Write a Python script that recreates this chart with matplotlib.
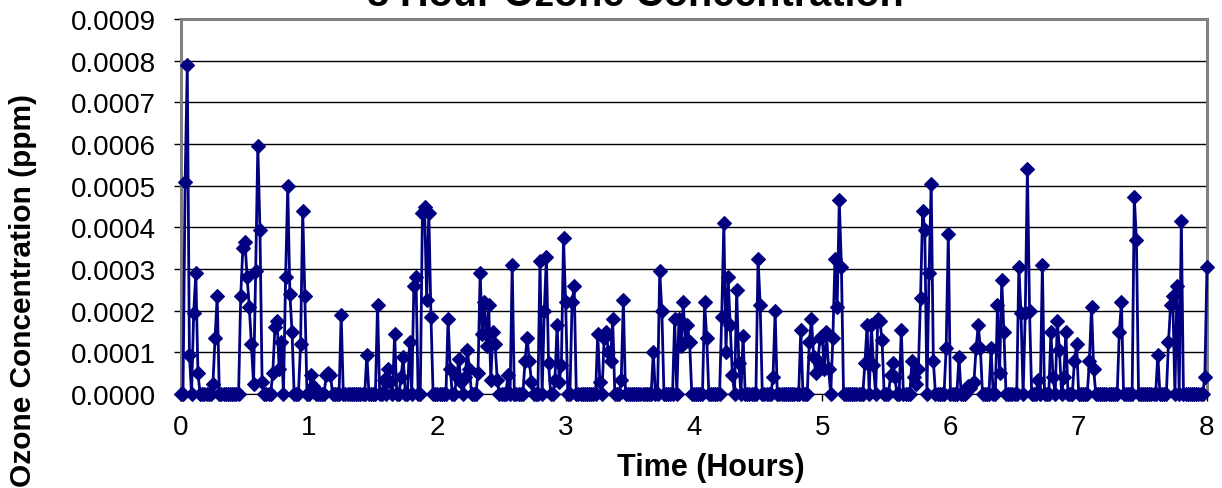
import numpy as np
import matplotlib
matplotlib.use("Agg")
import matplotlib.pyplot as plt
from matplotlib.ticker import FormatStrFormatter

plt.rcParams['font.family'] = ['Liberation Sans', 'DejaVu Sans']

# minute of the run (0..480) where ozone was above zero, and the reading there
# readings are in units of 1e-4 ppm; every other minute reads 0
event_minutes = [
    2, 3, 4, 6, 7, 8,
    15, 16, 17,
    28, 29, 30, 31, 32, 33, 34, 35, 36, 37, 38,
    43, 44, 45, 46, 47, 49, 50, 51, 52,
    56, 57, 58, 61, 62, 68, 69, 70, 75, 87, 92,
    95, 97, 98, 100, 103, 104, 107, 109, 110,
    113, 114, 115, 116, 117, 125, 126,
    129, 130, 131, 133, 134, 135,
    139, 140, 141, 142, 143, 144, 145, 146, 147, 148,
    153, 155, 161, 162, 163, 164,
    168, 170, 171, 172, 175, 176, 177, 178, 179, 180, 183, 184,
    195, 196, 198, 199, 200, 201, 202, 206, 207,
    221, 224, 225,
    231, 233, 234, 235, 236, 237, 238, 245, 246,
    253, 254, 255, 256, 257, 258, 260, 261, 263,
    270, 271, 277, 278, 290,
    294, 295, 296, 297, 298, 299, 300, 301, 302, 303,
    305, 306, 307, 308, 309,
    320, 321, 323, 324, 326, 327, 328,
    332, 333, 334, 337,
    342, 343, 344, 345, 346, 347, 348, 350, 351, 352,
    358, 359, 364,
    368, 369, 370, 371, 372, 373, 374, 379,
    382, 383, 384, 385,
    392, 393, 395, 396, 397, 401, 403,
    407, 408, 410, 411, 413, 414, 418, 419,
    425, 426, 427, 439, 440, 446, 447, 457,
    462, 463, 464, 466, 468, 479, 480,
]
event_values = [
    5.1, 7.9, 0.95, 1.95, 2.9, 0.5,
    0.25, 1.35, 2.35,
    2.35, 3.5, 3.65, 2.8, 2.1, 1.2, 0.25, 2.95, 5.95, 3.95, 0.3,
    0.5, 1.6, 1.75, 0.6, 1.25, 2.8, 5.0, 2.4, 1.5,
    1.2, 4.4, 2.35, 0.45, 0.2, 0.45, 0.5, 0.45, 1.9, 0.95, 2.15,
    0.35, 0.6, 0.3, 1.45, 0.4, 0.9, 1.25, 2.6, 2.8,
    4.35, 4.5, 2.25, 4.35, 1.85, 1.8, 0.6,
    0.4, 0.85, 0.3, 0.4, 1.05, 0.6,
    0.5, 2.9, 1.45, 2.2, 1.15, 2.15, 0.35, 1.5, 1.2, 0.35,
    0.45, 3.1, 0.8, 1.35, 0.8, 0.3,
    3.2, 2.0, 3.3, 0.75, 0.35, 1.65, 0.3, 0.7, 3.75, 2.2, 2.2, 2.6,
    1.45, 0.3, 1.35, 1.5, 1.0, 0.8, 1.8, 0.35, 2.25,
    1.0, 2.95, 2.0,
    1.8, 1.8, 1.15, 2.2, 1.25, 1.65, 1.25, 2.2, 1.35,
    1.85, 4.1, 1.0, 2.8, 1.65, 0.45, 2.5, 0.75, 1.4,
    3.25, 2.15, 0.4, 2.0, 1.55,
    1.25, 1.8, 0.9, 0.5, 0.8, 1.35, 1.4, 0.6, 1.5, 0.6,
    1.35, 3.25, 2.1, 4.65, 3.05,
    0.75, 1.65, 1.65, 0.7, 1.8, 1.75, 1.3,
    0.45, 0.75, 0.4, 1.55,
    0.8, 0.4, 0.25, 0.6, 2.3, 4.4, 3.95, 2.9, 5.05, 0.8,
    1.1, 3.85, 0.9,
    0.2, 0.15, 0.25, 0.3, 1.1, 1.65, 1.1, 1.1,
    2.15, 0.5, 2.75, 1.5,
    3.05, 1.95, 1.95, 5.4, 2.0, 0.35, 3.1,
    1.5, 0.4, 1.75, 1.05, 0.4, 1.5, 0.8, 1.2,
    0.8, 2.1, 0.6, 1.5, 2.2, 4.73, 3.7, 0.95,
    1.25, 2.15, 2.35, 2.6, 4.15, 0.4, 3.05,
]

run_minutes = 480
y_ticks = [0.0000, 0.0001, 0.0002, 0.0003, 0.0004, 0.0005, 0.0006, 0.0007, 0.0008, 0.0009]
x_ticks = [0, 1, 2, 3, 4, 5, 6, 7, 8]

# full minute-by-minute series
minutes = np.arange(run_minutes + 1)
ozone = np.zeros(run_minutes + 1)
ozone[event_minutes] = np.array(event_values) * 1e-4
hours = minutes / 60.0

fig = plt.figure(figsize=(12.22, 4.89), dpi=100)
ax = fig.add_axes([0.148, 0.192, 0.8397, 0.767])

ax.plot(hours, ozone, color='#000080', lw=2, marker='D', markersize=7.5,
        markeredgewidth=0.8, zorder=3, clip_on=False)

ax.set_xlim(0, 8)
ax.set_ylim(0, 0.0009)
ax.set_xticks(x_ticks)
ax.set_yticks(y_ticks)
ax.yaxis.set_major_formatter(FormatStrFormatter('%.4f'))
ax.tick_params(axis='both', labelsize=20, colors='black', length=5, width=1)
ax.tick_params(axis='x', pad=9)
ax.tick_params(axis='y', pad=13)
ax.grid(axis='y', color='black', lw=1)
ax.set_axisbelow(True)

for side in ['top', 'right', 'left']:
    ax.spines[side].set_color('#808080')
    ax.spines[side].set_linewidth(2.2)
ax.spines['bottom'].set_color('black')

fig.text(0.582, 0.043, 'Time (Hours)', ha='center', va='center',
         fontsize=22, fontweight='bold')
fig.text(0.019, 0.405, 'Ozone Concentration (ppm)', ha='center', va='center',
         rotation=90, fontsize=21.5, fontweight='bold')
# title sits mostly above the top edge, as in the source image
fig.text(0.52, 0.987, '8 Hour Ozone Concentration', ha='center', va='baseline',
         fontsize=28.5, fontweight='bold')

fig.savefig('out.png', dpi=100)
